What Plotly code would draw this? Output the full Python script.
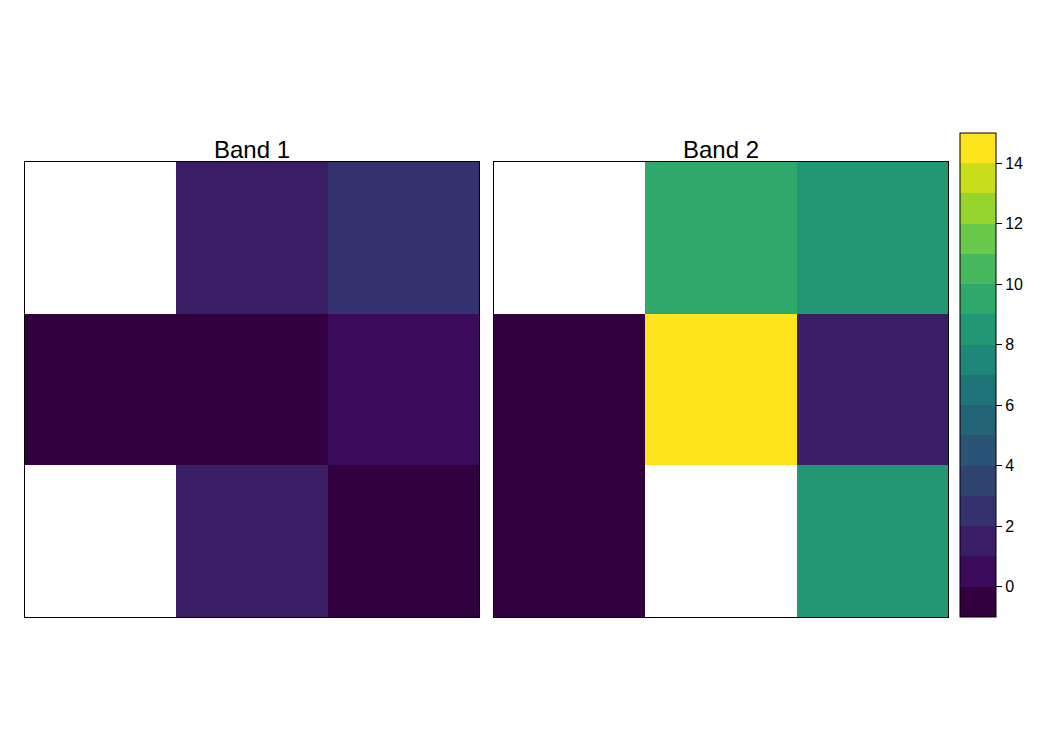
import plotly.graph_objects as go

# Data (rows listed top to bottom, None = missing)
band1 = [[None, 2, 3],
         [0, 0, 1],
         [None, 2, 0]]
band2 = [[None, 10, 9],
         [0, 15, 2],
         [0, None, 9]]
panel_titles = ["Band 1", "Band 2"]
cols = [1, 2, 3]
rows = [1, 2, 3]
level_min, level_max = -1, 15
tick_vals = [0, 2, 4, 6, 8, 10, 12, 14]

level_colors = ["#33003f", "#3a0b5a", "#391e66", "#34326e", "#2f4370", "#2a5475",
                "#236577", "#1f7479", "#1f8779", "#229773", "#2fa86b", "#47b85e",
                "#6ac84a", "#96d42e", "#c9dd1a", "#fde51e"]

n = len(level_colors)
eps = 1e-6
cscale = []
for i, c in enumerate(level_colors):
    lo = i / n + (eps if i > 0 else 0)
    hi = (i + 1) / n
    cscale.append([lo, c])
    cscale.append([hi, c])

W, H = 1050, 750
fig = go.Figure()
fig.add_trace(go.Heatmap(z=band1, x=cols, y=rows, coloraxis="coloraxis", xaxis="x", yaxis="y",
                         hoverongaps=False))
fig.add_trace(go.Heatmap(z=band2, x=cols, y=rows, coloraxis="coloraxis", xaxis="x2", yaxis="y2",
                         hoverongaps=False))

ybot = 1 - 617 / H
ytop = 1 - 162 / H
ax_common = dict(showticklabels=False, ticks="", showgrid=False, zeroline=False,
                 showline=True, linecolor="black", linewidth=1, mirror=True)
fig.update_layout(
    width=W, height=H, margin=dict(l=0, r=0, t=0, b=0),
    plot_bgcolor="white", paper_bgcolor="white",
    font=dict(family="Liberation Sans, Arial, sans-serif", color="black"),
    xaxis=dict(domain=[25 / W, 479 / W], range=[0.5, 3.5], **ax_common),
    yaxis=dict(domain=[ybot, ytop], range=[3.5, 0.5], **ax_common),
    xaxis2=dict(domain=[494 / W, 948 / W], range=[0.5, 3.5], anchor="y2", **ax_common),
    yaxis2=dict(domain=[ybot, ytop], range=[3.5, 0.5], anchor="x2", **ax_common),
    coloraxis=dict(
        colorscale=cscale, cmin=level_min, cmax=level_max,
        colorbar=dict(
            x=960 / W, xanchor="left", y=1 - 617 / H, yanchor="bottom",
            thickness=36, thicknessmode="pixels", len=484, lenmode="pixels",
            outlinewidth=1, outlinecolor="black",
            tickvals=tick_vals, ticks="outside", ticklen=6, tickcolor="black",
            tickfont=dict(size=16, color="black"), xpad=0, ypad=0,
        ),
    ),
    showlegend=False,
)
fig.add_annotation(text=panel_titles[0], x=252 / W, y=1 - 149 / H, xref="paper", yref="paper",
                   showarrow=False, font=dict(size=24), xanchor="center", yanchor="middle")
fig.add_annotation(text=panel_titles[1], x=721 / W, y=1 - 149 / H, xref="paper", yref="paper",
                   showarrow=False, font=dict(size=24), xanchor="center", yanchor="middle")
fig.write_html("out.html")
